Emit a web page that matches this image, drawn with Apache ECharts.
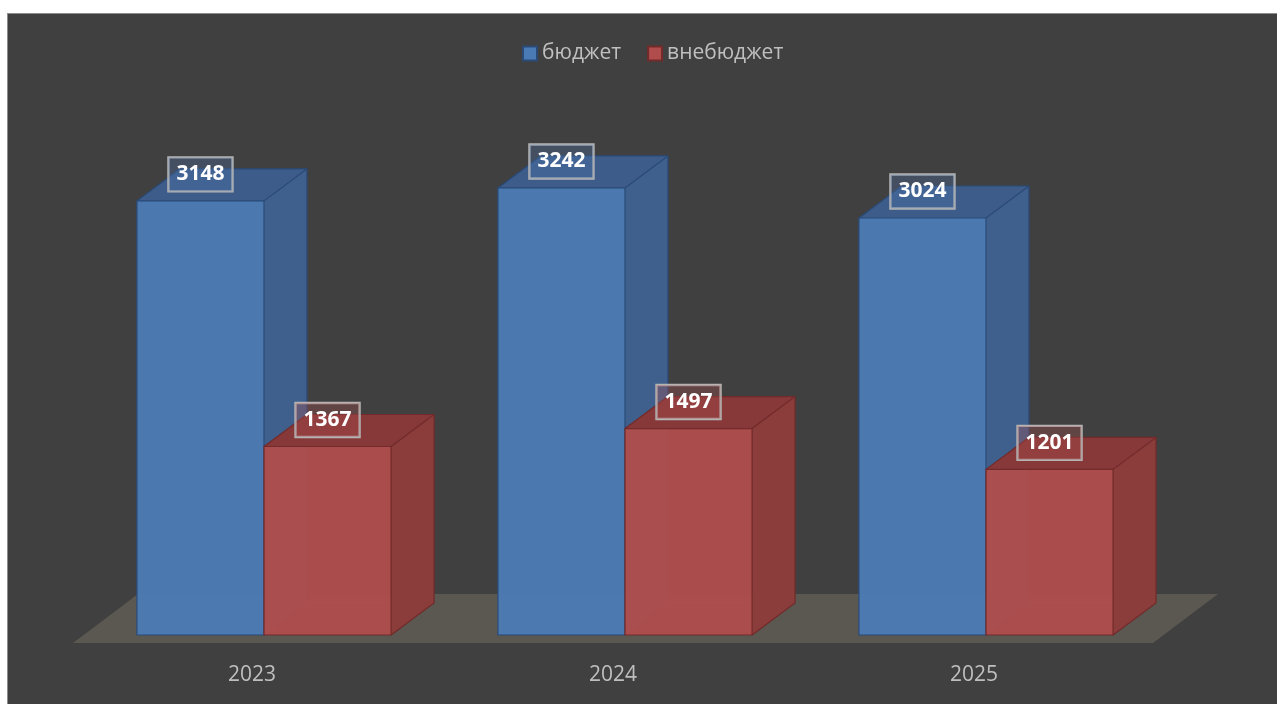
<!DOCTYPE html>
<html>
<head>
<meta charset="utf-8">
<style>
    html, body { margin: 0; padding: 0; background: #ffffff; }
    #frame {
        position: absolute; left: 7px; top: 13px; right: 0; bottom: 0;
        background: #404040;
        border-left: 1px solid #8c8c8c;
        border-top: 1px solid #8c8c8c;
    }
    #chart { position: absolute; left: 0; top: 0; width: 1277px; height: 704px; }
</style>
<script src="https://cdn.jsdelivr.net/npm/echarts@6/dist/echarts.min.js"></script>
</head>
<body>
<div id="frame"></div>
<div id="chart"></div>
<script>
    // данные
    var years = ['2023', '2024', '2025'];
    var budget = [3148, 3242, 3024];
    var offBudget = [1367, 1497, 1201];
    var seriesNames = ['бюджет', 'внебюджет'];

    var palette = [
        { front: '#4b7bb5', side: '#3f5f8c', top: '#3d5c8a', edge: '#2a4a78', box: 'rgba(80,120,175,0.3)' },
        { front: '#b04d4c', side: '#8b3d3c', top: '#873838', edge: '#722a2a', box: 'rgba(175,80,80,0.3)' }
    ];

    var FONT = '"Open Sans", "Noto Sans", sans-serif';

    // 3D-столбик
    function makeBar(side) {
        return function (params, api) {
            var idx = api.value(0);
            var top = api.coord([idx, api.value(1)]);
            var base = api.coord([idx, 0]);
            var bw = api.size([1, 0])[0];
            var w = bw * 0.352;
            var dx = bw * 0.119, dy = -bw * 0.0886;
            var x0 = side === 0 ? top[0] - w : top[0];
            var x1 = x0 + w;
            var yt = top[1], yb = base[1];
            var c = palette[side];
            var lineStyle = { stroke: c.edge, lineWidth: 1.2, fill: null };
            return {
                type: 'group',
                children: [
                    // невидимые грани
                    { type: 'polyline', shape: { points: [[x0, yb], [x0 + dx, yb + dy], [x1 + dx, yb + dy]] },
                      style: { stroke: 'rgba(255,255,255,0.12)', lineWidth: 1, fill: null } },
                    { type: 'line', shape: { x1: x0 + dx, y1: yb + dy, x2: x0 + dx, y2: yt + dy },
                      style: { stroke: 'rgba(255,255,255,0.06)', lineWidth: 1 } },
                    { type: 'polygon', shape: { points: [[x0, yt], [x1, yt], [x1, yb], [x0, yb]] },
                      style: { fill: c.front, opacity: 0.95 } },
                    { type: 'polygon', shape: { points: [[x1, yt], [x1 + dx, yt + dy], [x1 + dx, yb + dy], [x1, yb]] },
                      style: { fill: c.side } },
                    { type: 'polygon', shape: { points: [[x0, yt], [x0 + dx, yt + dy], [x1 + dx, yt + dy], [x1, yt]] },
                      style: { fill: c.top } },
                    { type: 'polygon', shape: { points: [[x0, yt], [x1, yt], [x1, yb], [x0, yb]] }, style: lineStyle },
                    { type: 'polyline', shape: { points: [[x0, yt], [x0 + dx, yt + dy], [x1 + dx, yt + dy], [x1 + dx, yb + dy], [x1, yb]] }, style: lineStyle },
                    { type: 'line', shape: { x1: x1, y1: yt, x2: x1 + dx, y2: yt + dy }, style: lineStyle },
                    // подпись
                    { type: 'text', x: (x0 + x1) / 2, y: yt - 26.5,
                      style: {
                          text: String(api.value(1)),
                          align: 'center', verticalAlign: 'middle',
                          font: 'bold 21px ' + FONT,
                          fill: '#ffffff',
                          backgroundColor: c.box,
                          borderColor: '#b4b4b4', borderWidth: 1.2,
                          padding: [8, 8, 5, 8]
                      } }
                ]
            };
        };
    }

    // пол
    function renderFloor(params, api) {
        var cs = params.coordSys;
        var yb = cs.y + cs.height;
        var fl = cs.x - 10.5, fr = cs.x + cs.width - 13.5;
        var fy = yb + 8, by = yb - 41, d = 65;
        return {
            type: 'polygon',
            shape: { points: [[fl, fy], [fr, fy], [fr + d, by], [fl + d, by]] },
            style: { fill: '#5a5850' }
        };
    }

    var myChart = echarts.init(document.getElementById('chart'));
    myChart.setOption({
        backgroundColor: 'transparent',
        animation: false,
        legend: {
            data: seriesNames,
            top: 38,
            left: 517,
            icon: 'rect',
            itemWidth: 14,
            itemHeight: 14,
            itemGap: 26,
            textStyle: { color: '#bfbfbf', fontSize: 21, fontFamily: FONT }
        },
        grid: { left: 83.5, right: 110.5, top: 83.4, bottom: 69 },
        xAxis: {
            type: 'category',
            data: years,
            axisLine: { show: false },
            axisTick: { show: false },
            axisLabel: { color: '#bfbfbf', fontSize: 21, fontFamily: FONT, margin: 30, padding: [0, 24, 0, 0] }
        },
        yAxis: {
            type: 'value', min: 0, max: 4000, interval: 1000,
            show: false
        },
        series: [
            { type: 'custom', name: 'floor', renderItem: renderFloor, data: [[0, 0]], silent: true, z: 1 },
            {
                type: 'custom', name: seriesNames[0], renderItem: makeBar(0), z: 2,
                itemStyle: { color: palette[0].front, borderColor: palette[0].edge, borderWidth: 1.5 },
                encode: { x: 0, y: 1 },
                data: budget.map(function (v, i) { return [i, v]; })
            },
            {
                type: 'custom', name: seriesNames[1], renderItem: makeBar(1), z: 3,
                itemStyle: { color: palette[1].front, borderColor: palette[1].edge, borderWidth: 1.5 },
                encode: { x: 0, y: 1 },
                data: offBudget.map(function (v, i) { return [i, v]; })
            }
        ]
    });
</script>
</body>
</html>
